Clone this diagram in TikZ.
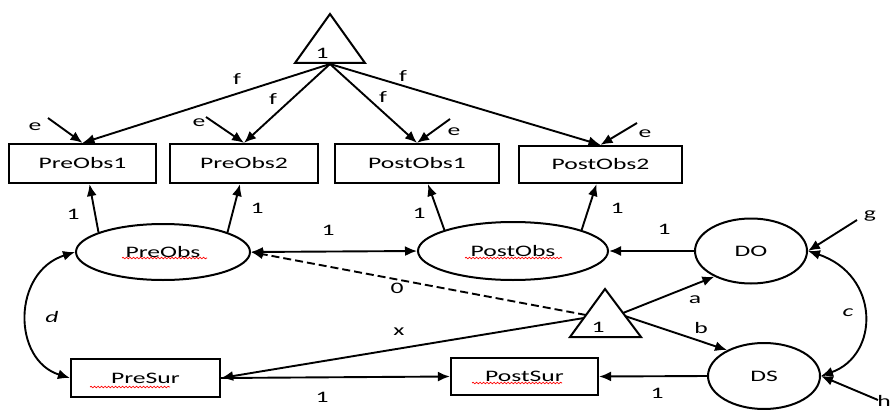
\documentclass[tikz,border=0pt]{standalone}
\usepackage{fontspec}
\setmainfont{Carlito}[FakeStretch=1.6]
\usetikzlibrary{arrows.meta,shapes.geometric,decorations.pathmorphing}
\begin{document}
\begin{tikzpicture}[x=1pt,y=-1pt,
  font=\fontsize{16}{18}\selectfont,
  box/.style={draw,line width=2.2pt,inner sep=0pt},
  oval/.style={draw,ellipse,line width=2pt,inner sep=0pt},
  tri/.style={draw,line width=2pt,line join=miter},
  arr/.style={line width=1.9pt,-{Latex[length=12pt,width=10pt]}},
  darr/.style={line width=1.9pt,{Latex[length=12pt,width=10pt]}-{Latex[length=12pt,width=10pt]}},
  dasharr/.style={arr,dash pattern=on 8pt off 4pt},
  lab/.style={inner sep=0pt},
  wavy/.style={red,line width=0.7pt,decorate,decoration={snake,amplitude=0.8pt,segment length=3.5pt}}
]
\useasboundingbox (0,0) rectangle (890,409);

% observed boxes
\node[box,minimum width=147pt,minimum height=39pt] (pre1) at (82.5,163.5) {PreObs1};
\node[box,minimum width=148pt,minimum height=39pt] (pre2) at (244,163.5) {PreObs2};
\node[box,minimum width=164pt,minimum height=39pt] (pst1) at (417,163.5) {PostObs1};
\node[box,minimum width=163pt,minimum height=37pt] (pst2) at (600.5,164.5) {PostObs2};
\node[box,minimum width=149pt,minimum height=38pt] (presur) at (145.5,378) {PreSur\hspace{24pt}};
\node[box,minimum width=147pt,minimum height=37pt] (postsur) at (524.5,376.5) {PostSur\hspace{14pt}};

% latent ovals
\node[oval,minimum width=174pt,minimum height=56pt] (pre) at (163,252) {PreObs};
\node[oval,minimum width=190pt,minimum height=58pt] (post) at (513,251) {PostObs};
\node[oval,minimum width=112pt,minimum height=65pt] (do) at (751,251) {DO};
\node[oval,minimum width=112pt,minimum height=66pt] (ds) at (764,376) {DS};

% spell-check underlines
\draw[wavy] (122,258) -- (207,258);
\draw[wavy] (465,258) -- (562,258);
\draw[wavy] (90,387) -- (170,387);
\draw[wavy] (472,383) -- (562,383);

% triangles
\draw[tri] (330,14) -- (365,63) -- (295,63) -- cycle;
\node[lab] (t1) at (322,53) {1};
\coordinate (t1b) at (330,64);
\draw[tri] (605,289) -- (641,337) -- (570,337) -- cycle;
\node[lab] (t2) at (598,327) {1};
\coordinate (t2r) at (623,313);
\coordinate (t2rb) at (625,316);
\coordinate (t2l) at (586,315);
\coordinate (t2l2) at (584,318);

% f paths
\draw[arr] (t1b) -- (pre1.north);
\draw[arr] (t1b) -- (pre2.north);
\draw[arr] (t1b) -- (pst1.north);
\draw[arr] (t1b) -- (pst2.north);
\node[lab] (f1) at (237,79) {f};
\node[lab] (f2) at (273,99) {f};
\node[lab] (f3) at (383,97) {f};
\node[lab] (f4) at (403,76) {f};

% e residuals
\coordinate (e1s) at (48,118);
\coordinate (e2s) at (206,117);
\coordinate (e3s) at (450,119);
\coordinate (e4s) at (637,123);
\draw[arr] (e1s) -- (pre1.north);
\draw[arr] (e2s) -- (pre2.north);
\draw[arr] (e3s) -- (pst1.north);
\draw[arr] (e4s) -- (pst2.north);
\node[lab] (le1) at (35,127) {e};
\node[lab] (le2) at (199,123) {e};
\node[lab] (le3) at (454,132) {e};
\node[lab] (le4) at (645,134) {e};

% loadings
\draw[arr] (pre.163) -- ([xshift=7pt]pre1.south);
\draw[arr] (pre.17) -- ([xshift=-4pt]pre2.south);
\draw[arr] (post.163) -- ([xshift=11pt]pst1.south);
\draw[arr] (post.17) -- ([xshift=-4pt]pst2.south);
\node[lab] (l1) at (73,214) {1};
\node[lab] (l2) at (257,208) {1};
\node[lab] (l3) at (419,213) {1};
\node[lab] (l4) at (617,208) {1};

% structural paths
\draw[darr] (pre.east) -- (post.west);
\node[lab] (l5) at (328,230) {1};
\draw[arr] (do.west) -- (post.east);
\node[lab] (l6) at (664,229) {1};
\draw[arr] (ds.west) -- (postsur.east);
\node[lab] (l7) at (657,393) {1};
\draw[arr] (presur.east) -- (postsur.west);
\node[lab] (l8) at (322,397) {1};

% from lower triangle
\draw[arr] (t2r) -- (do.215);
\node[lab] (la) at (695,300) {a};
\draw[arr] (t2rb) -- (ds.145);
\node[lab] (lb) at (701,328) {b};
\draw[dasharr] (t2l) -- (pre.east);
\node[lab] (l0) at (397,288) {0};
\draw[arr] (t2l2) -- (presur.east);
\node[lab] (lx) at (399,332) {x};

% covariances
\draw[darr] (pre.west) .. controls (12,272) and (12,360) .. (presur.west);
\node[lab] (ld) at (52,317) {\itshape d};
\draw[darr] (do.east) .. controls (880,275) and (880,355) .. (ds.east);
\node[lab] (lc) at (848,313) {\itshape c};

% disturbances
\coordinate (gs) at (857,220);
\coordinate (hs) at (878,400);
\draw[arr] (gs) -- (do.east);
\draw[arr] (hs) -- (ds.east);
\node[lab] (lg) at (870,216) {g};
\node[lab] (lh) at (884,401) {h};
\end{tikzpicture}
\end{document}
